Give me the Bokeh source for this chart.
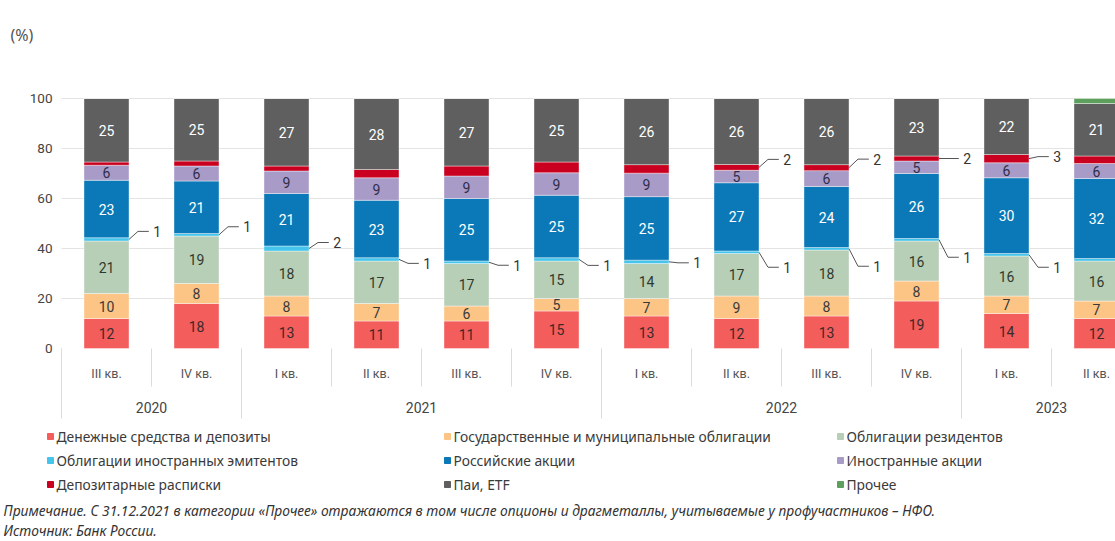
from bokeh.plotting import figure
from bokeh.models import Range1d, ColumnDataSource
from bokeh.embed import file_html
from bokeh.resources import INLINE
from bokeh.core.properties import value

# ---------------- data (labels are rounded) ----------------
years = ["2020", "2020", "2021", "2021", "2021", "2021",
         "2022", "2022", "2022", "2022", "2023", "2023"]
quarters = ["III кв.", "IV кв.", "I кв.", "II кв.", "III кв.", "IV кв.",
            "I кв.", "II кв.", "III кв.", "IV кв.", "I кв.", "II кв."]

cash = [12, 18, 13, 11, 11, 15, 13, 12, 13, 19, 14, 12]
gov_bonds = [10, 8, 8, 7, 6, 5, 7, 9, 8, 8, 7, 7]
res_bonds = [21, 19, 18, 17, 17, 15, 14, 17, 18.4, 16, 16, 16]
foreign_bonds = [1.3, 1, 2, 1.3, 1, 1.3, 1.35, 1, 1, 1, 1, 1]
ru_shares = [23, 21, 21, 23, 25, 25, 25.4, 27.3, 24.4, 26, 30.3, 32]
foreign_shares = [6, 6, 9, 9, 9, 9, 9.4, 5, 6.35, 5, 6, 6]
dep_receipts = [1.3, 2, 2, 3.3, 4, 4.3, 3.4, 2.3, 2.4, 2, 3.3, 3]
funds_etf = [25.4, 25, 27, 28.4, 27, 25.4, 26.45, 26.4, 26.45, 23, 22.4, 21]
other = [0, 0, 0, 0, 0, 0, 0, 0, 0, 0, 0, 2]

series_names = [
    "Денежные средства и депозиты",
    "Государственные и муниципальные облигации",
    "Облигации резидентов",
    "Облигации иностранных эмитентов",
    "Российские акции",
    "Иностранные акции",
    "Депозитарные расписки",
    "Паи, ETF",
    "Прочее",
]
series_values = [cash, gov_bonds, res_bonds, foreign_bonds, ru_shares,
                 foreign_shares, dep_receipts, funds_etf, other]
y_ticks = [0, 20, 40, 60, 80, 100]

note_text = ("Примечание. С 31.12.2021 в категории «Прочее» отражаются в том числе "
             "опционы и драгметаллы, учитываемые у профучастников – НФО.")
source_text = "Источник: Банк России."
unit_text = "(%)"

# ---------------- styles / layout ----------------
colors = ["#f35d5c", "#fcc585", "#b8cfb7", "#45c4ec", "#0b79b7",
          "#a99bc8", "#c9001f", "#5f5f5f", "#5d9f5c"]
label_colors = ["#3a2a2a", "#3a3a3a", "#2f3a2f", "#333333", "#ffffff",
                "#2e2e4a", "#333333", "#ffffff", "#333333"]
inner_label = [True, True, True, False, True, True, False, True, False]
NUM_FONT = value("Roboto")
TXT_FONT = value("Noto Sans")
W, H = 1115, 541
X0_PX, PX_PER_CAT = 61.0, 90.0      # left of first category, width of a category
Y0_PX, PX_PER_PCT = 348.0, 2.5      # baseline, pixels per percentage point


def X(px):
    return (px - X0_PX) / PX_PER_CAT


def Y(py):
    return (Y0_PX - py) / PX_PER_PCT


def fmt(v):
    return str(int(round(v)))


n = len(quarters)
xc = [i + 0.5 for i in range(n)]

p = figure(width=W, height=H, x_range=Range1d(X(0), X(W)), y_range=Range1d(Y(H), Y(0)),
           output_backend="svg", toolbar_location=None, title=None,
           x_axis_location=None, y_axis_location=None, min_border=0)
p.grid.visible = False
p.outline_line_color = None
p.background_fill_color = "white"

# unit
p.text(x=[X(10)], y=[Y(34)], text=[unit_text], text_font=TXT_FONT, text_font_size="16px",
       text_color="#555555", text_baseline="middle", text_align="left")

# grid + value axis labels
gt = [t for t in y_ticks if t > 0]
p.segment(x0=[0] * len(gt), y0=gt, x1=[X(W)] * len(gt), y1=gt,
          line_color="#e4e4e4", line_width=1)
p.text(x=[X(52)] * len(y_ticks), y=y_ticks, text=[str(t) for t in y_ticks],
       text_font=NUM_FONT, text_font_size="13.5px", text_color="#444444",
       text_align="right", text_baseline="middle")

# stacked bars
keys = [f"s{k}" for k in range(len(series_values))]
data = {"x": xc}
for k, vals in zip(keys, series_values):
    data[k] = vals
src = ColumnDataSource(data)
p.vbar_stack(keys, x="x", width=0.5, color=colors, line_color="white",
             line_width=0.4, source=src)

# inner labels
lx, ly, lt, lc = [], [], [], []
bottoms = [0.0] * n
seg_mid = []
for s, vals in enumerate(series_values):
    mids = []
    for i in range(n):
        mids.append(bottoms[i] + vals[i] / 2.0)
        if inner_label[s] and vals[i] > 0:
            lx.append(xc[i]); ly.append(bottoms[i] + vals[i] / 2.0)
            lt.append(fmt(vals[i])); lc.append(label_colors[s])
        bottoms[i] += vals[i]
    seg_mid.append(mids)
p.text(x=lx, y=ly, text=lt, text_color=lc, text_font=NUM_FONT,
       text_font_size="14px", text_align="center", text_baseline="middle")

# callouts (layout offsets, in percentage points)
callout_dy = {
    3: [3.2, 3.2, 2.4, -1.6, -1.2, -2.4, -0.4, -6.0, -7.0, -7.0, -5.0, None],
    6: [None] * 7 + [3.2, 3.4, 0.0, 0.8, None],
}
cxs, cys, ctx, cty, ctt = [], [], [], [], []
for s, dys in callout_dy.items():
    for i, dy in enumerate(dys):
        if dy is None:
            continue
        y0 = seg_mid[s][i]
        y1 = y0 + dy
        cxs.append([xc[i] + 0.25, xc[i] + 0.35, xc[i] + 0.47])
        cys.append([y0, y1, y1])
        ctx.append(xc[i] + 0.52); cty.append(y1)
        ctt.append(fmt(series_values[s][i]))
p.multi_line(xs=cxs, ys=cys, line_color="#555555", line_width=1)
p.text(x=ctx, y=cty, text=ctt, text_color="#333333", text_font=NUM_FONT,
       text_font_size="14px", text_align="left", text_baseline="middle")

# category axis
qx0, qy0, qy1 = [], [], []
for i in range(n):
    qx0.append(i); qy0.append(0); qy1.append(Y(386))
year_bounds = [0] + [i for i in range(1, n) if years[i] != years[i - 1]]
for b in year_bounds:
    qx0.append(b); qy0.append(0); qy1.append(Y(418))
p.segment(x0=qx0, y0=qy0, x1=qx0, y1=qy1, line_color="#dcdcdc", line_width=1)
p.text(x=xc, y=[Y(373)] * n, text=quarters, text_font=NUM_FONT, text_font_size="12.5px",
       text_color="#555555", text_align="center", text_baseline="middle")
yl_x, yl_t = [], []
for j, b in enumerate(year_bounds):
    e = year_bounds[j + 1] if j + 1 < len(year_bounds) else n
    yl_x.append((b + e) / 2.0); yl_t.append(years[b])
p.text(x=yl_x, y=[Y(407)] * len(yl_x), text=yl_t, text_font=NUM_FONT,
       text_font_size="14px", text_color="#444444", text_align="center",
       text_baseline="middle")

# legend
col_px = [50, 447, 840]
row_py = [436, 460, 484]
sw_x, sw_y, t_x, t_y = [], [], [], []
for k in range(len(series_names)):
    r, c = divmod(k, 3)
    sw_x.append(X(col_px[c])); sw_y.append(Y(row_py[r]))
    t_x.append(X(col_px[c] + 6)); t_y.append(Y(row_py[r]))
p.rect(x=sw_x, y=sw_y, width=6 / PX_PER_CAT, height=6 / PX_PER_PCT, color=colors)
p.text(x=t_x, y=t_y, text=series_names, text_font=TXT_FONT,
       text_font_size="13.8px", text_color="#3a3a3a", text_align="left",
       text_baseline="middle")

# notes
p.text(x=[X(3), X(3)], y=[Y(510), Y(530)], text=[note_text, source_text],
       text_font=TXT_FONT, text_font_style="italic",
       text_font_size="13.8px", text_color="#333333", text_align="left",
       text_baseline="middle")

open("out.html", "w").write(file_html(p, INLINE))
